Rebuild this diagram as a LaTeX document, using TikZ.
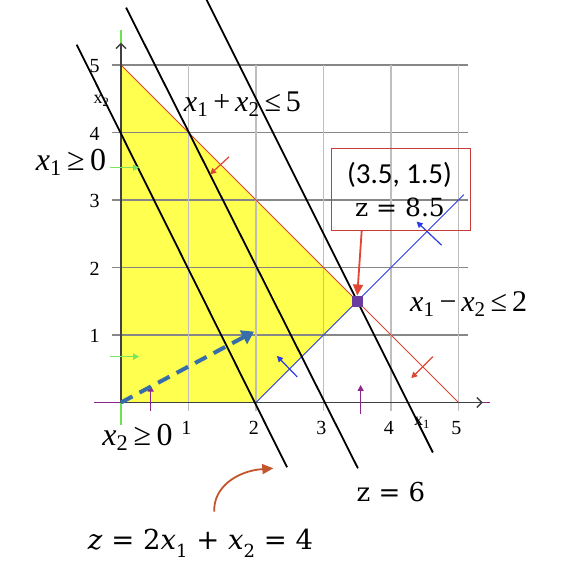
\RequirePackage{fix-cm}
\documentclass[tikz,border=0pt]{standalone}
\usepackage{fontspec}
\setmainfont{Liberation Serif}
\newfontfamily\calfont{Carlito}
\newfontfamily\djs{DejaVu Serif}
\usetikzlibrary{arrows.meta}
\definecolor{yfill}{RGB}{255,255,80}
\definecolor{gridh}{RGB}{135,135,135}
\definecolor{gridv}{RGB}{190,190,190}
\definecolor{redl}{RGB}{225,70,50}
\definecolor{bluel}{RGB}{40,60,225}
\definecolor{greenl}{RGB}{110,225,80}
\definecolor{purl}{RGB}{140,40,140}
\definecolor{sqpur}{RGB}{105,60,160}
\definecolor{boxred}{RGB}{200,60,55}
\definecolor{dashblue}{RGB}{55,110,170}
\definecolor{curvec}{RGB}{195,85,45}
\newcommand{\tx}[1]{\textit{x}\textsubscript{#1}}
\newcommand{\dsub}[1]{\raisebox{-0.28em}{\fontsize{18}{20}\selectfont #1}}
\tikzset{
  hgridline/.style={draw=gridh, line width=1.3pt},
  vgridline/.style={draw=gridv, line width=1.3pt},
  zline/.style={draw=black, line width=1.8pt},
  redline/.style={draw=redl, line width=0.9pt},
  blueline/.style={draw=bluel, line width=0.9pt},
  grarrow/.style={draw=greenl!90!white, line width=1.2pt, -{Triangle[length=6pt,width=6pt]}},
  puarrow/.style={draw=purl, line width=1.2pt, -{Triangle[length=6pt,width=6pt]}},
  rdarrow/.style={draw=redl, line width=1.2pt, -{Triangle[length=6pt,width=6pt]}},
  blarrow/.style={draw=bluel, line width=1.2pt, -{Triangle[length=6pt,width=6pt]}},
  ticklab/.style={inner sep=0pt, font=\fontsize{20}{22}\selectfont},
  bigineq/.style={inner sep=0pt, font=\fontsize{32}{36}\selectfont},
  midineq/.style={inner sep=0pt, font=\fontsize{30}{34}\selectfont},
  mathlab/.style={inner sep=0pt, font=\djs\fontsize{26}{30}\selectfont},
}
\begin{document}
\begin{tikzpicture}[x=1pt,y=-1pt]
\useasboundingbox (0,0) rectangle (572,582);
\fill[white] (0,0) rectangle (572,582);
\begin{scope}[shift={(121,402.5)},x=67.5pt,y=67.5pt]
  % feasible region
  \fill[yfill] (0,0) -- (0,5) -- (3.5,1.5) -- (2,0) -- cycle;
  % grid
  \foreach \j in {1,...,5} \draw[hgridline] (-0.13,\j) -- (5.14,\j);
  \foreach \i in {1,...,5} \draw[vgridline] (\i,-0.12) -- (\i,5);
  % constraint lines
  \draw[redline] (0,5) -- (5,0);
  \draw[blueline] (2,0) -- (5.08,3.08);
  % axes
  \draw[draw=purl, line width=1.3pt] (-0.4,0) -- (5.47,0);
  \draw[draw=greenl, line width=1.5pt] (0,-0.33) -- (0,5.52);
  \draw[draw=black!75, line width=1.4pt, -{Straight Barb[length=5pt,width=10pt]}] (0,0) -- (5.36,0);
  \draw[draw=black!75, line width=1.4pt, -{Straight Barb[length=5pt,width=10pt]}] (0,0) -- (0,5.33);
  % objective lines
  \draw[zline] (-0.656,5.30) -- (2.46,-0.96);
  \draw[zline] (0.075,5.85) -- (3.51,-0.975);
  \draw[zline] (1.27,5.963) -- (4.62,-0.74);
  % direction arrows
  \draw[grarrow] (-0.16,3.48) -- (0.27,3.48);
  \draw[grarrow] (-0.16,0.68) -- (0.27,0.68);
  \draw[puarrow] (0.44,-0.13) -- (0.44,0.25);
  \draw[puarrow] (3.55,-0.17) -- (3.55,0.26);
  \draw[rdarrow] (1.60,3.64) -- (1.32,3.38);
  \draw[rdarrow] (4.62,0.68) -- (4.30,0.36);
  \draw[blarrow] (4.75,2.33) -- (4.38,2.68);
  \draw[blarrow] (2.61,0.38) -- (2.31,0.69);
  % dashed direction arrow
  \coordinate (o) at (0,0);
  \coordinate (dtip) at (1.97,1.05);
  \draw[draw=dashblue, line width=4pt, dash pattern=on 13pt off 8pt, -{Triangle[length=12pt,width=15pt]}] (o) -- (dtip);
  % tick labels
  \foreach \j in {1,...,5} \node[ticklab] (yl\j) at (-0.39,\j-0.02) {\j};
  \foreach \i in {1,...,5} \node[ticklab] (xl\i) at (\i-0.03,-0.38) {\i};
  \node[inner sep=0pt, font=\fontsize{18}{20}\selectfont] (x2lab) at (-0.29,4.47) {x\textsubscript{2}};
  \node[inner sep=0pt, font=\fontsize{18}{20}\selectfont] (x1lab) at (4.46,-0.3) {x\textsubscript{1}};
  % optimum square
  \node[fill=sqpur, minimum size=11pt, inner sep=0pt] (sq) at (3.5,1.5) {};
\end{scope}
% callout box
\node[draw=boxred, line width=1pt, minimum width=139pt, minimum height=82pt, inner sep=0pt] (box) at (401.2,189.2) {};
\node[inner sep=0pt, font=\calfont\fontsize{29}{33}\selectfont] (boxl1) at (399.5,175) {(3.5, 1.5)};
\node[inner sep=0pt, font=\djs\fontsize{25}{29}\selectfont] (boxl2) at (400,207) {z = 8.5};
\draw[draw=redl, line width=1.8pt, -{Triangle[length=11pt,width=10pt]}] ([xshift=-39.5pt]box.south) -- (sq.north);
% labels
\node[midineq] (c1) at (242.5,104) {\tx{1}\,+\,\tx{2}\,≤\,5};
\node[bigineq] (c3) at (71,162) {\tx{1}\,≥\,0};
\node[midineq] (c2) at (468.7,304) {\tx{1}\,−\,\tx{2}\,≤\,2};
\node[bigineq] (c4) at (137.5,437) {\tx{2}\,≥\,0};
\node[mathlab] (z6) at (391,491.7) {z = 6};
\node[mathlab, font=\djs\fontsize{27.5}{31}\selectfont] (z4) at (200.5,543) {\textit{z} = 2\textit{x}\dsub{1} + \textit{x}\dsub{2} = 4};
\coordinate (cs) at (214.3,511.7);
\coordinate (ce) at (273.3,468.3);
\draw[draw=curvec, line width=1.8pt, -{Triangle[length=11pt,width=10pt]}] (cs) .. controls (213,488) and (236,471) .. (ce);
\end{tikzpicture}
\end{document}
